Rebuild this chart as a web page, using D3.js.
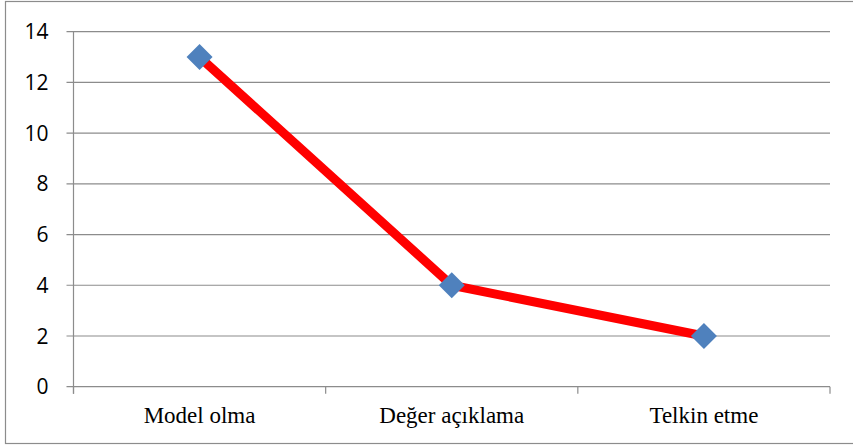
<!DOCTYPE html>
<html>
<head>
<meta charset="utf-8">
<script src="https://cdn.jsdelivr.net/npm/d3@7"></script>
<style>
  body { margin: 0; background: #fff; }
  svg { display: block; }
</style>
</head>
<body>
<div id="chart"></div>
<script>
// data
const categories = ["Model olma", "Değer açıklama", "Telkin etme"];
const values = [13, 4, 2];
const yTicks = [0, 2, 4, 6, 8, 10, 12, 14];

const W = 853, H = 445;
const margin = {top: 31.7, right: 23, bottom: 58.3, left: 73.5};
const width = W - margin.left - margin.right,
      height = H - margin.top - margin.bottom;

const svg = d3.select("#chart")
  .append("svg")
    .attr("width", W)
    .attr("height", H);

// chart frame
svg.append("rect")
  .attr("x", 5.5).attr("y", 1.5)
  .attr("width", W).attr("height", 442)
  .attr("fill", "none")
  .attr("stroke", "#8c8c8c")
  .attr("stroke-width", 1.2);

const g = svg.append("g")
  .attr("transform", "translate(" + margin.left + "," + margin.top + ")");

const x = d3.scaleBand()
  .range([0, width])
  .domain(categories);

const y = d3.scaleLinear()
  .range([height, 0])
  .domain([0, 14]);

// gridlines
g.selectAll(".grid")
  .data(yTicks)
  .enter()
  .append("line")
    .attr("x1", -7)
    .attr("x2", width)
    .attr("y1", d => y(d))
    .attr("y2", d => y(d))
    .attr("stroke", "#8c8c8c")
    .attr("stroke-width", 1.2);

// y labels
g.selectAll(".ylab")
  .data(yTicks)
  .enter()
  .append("text")
    .attr("x", -25)
    .attr("y", d => y(d))
    .attr("dy", "0.36em")
    .attr("text-anchor", "end")
    .style("font-family", "'Open Sans', sans-serif")
    .style("font-size", "21px")
    .attr("fill", "#000")
    .text(d => d);

// y axis line
g.append("line")
  .attr("x1", 0).attr("x2", 0)
  .attr("y1", 0).attr("y2", height + 7)
  .attr("stroke", "#8c8c8c")
  .attr("stroke-width", 1.2);

// x ticks at band edges
const edges = categories.map(c => x(c)).concat([width]);
g.selectAll(".xtick")
  .data(edges)
  .enter()
  .append("line")
    .attr("x1", d => d).attr("x2", d => d)
    .attr("y1", height).attr("y2", height + 7)
    .attr("stroke", "#8c8c8c")
    .attr("stroke-width", 1.2);

// x labels
g.selectAll(".xlab")
  .data(categories)
  .enter()
  .append("text")
    .attr("x", d => x(d) + x.bandwidth() / 2)
    .attr("y", height + 36.5)
    .attr("text-anchor", "middle")
    .style("font-family", "'Liberation Serif', 'Times New Roman', serif")
    .style("font-size", "23px")
    .attr("fill", "#000")
    .text(d => d);

// line
const line = d3.line()
  .x((d, i) => x(categories[i]) + x.bandwidth() / 2)
  .y(d => y(d));

g.append("path")
  .datum(values)
  .attr("d", line)
  .attr("fill", "none")
  .attr("stroke", "#ff0000")
  .attr("stroke-width", 9);

// diamond markers
const r = 13;
g.selectAll(".marker")
  .data(values)
  .enter()
  .append("path")
    .attr("transform", (d, i) => "translate(" + (x(categories[i]) + x.bandwidth() / 2) + "," + y(d) + ")")
    .attr("d", "M0," + (-r) + "L" + r + ",0L0," + r + "L" + (-r) + ",0Z")
    .attr("fill", "#4f81bd");
</script>
</body>
</html>
